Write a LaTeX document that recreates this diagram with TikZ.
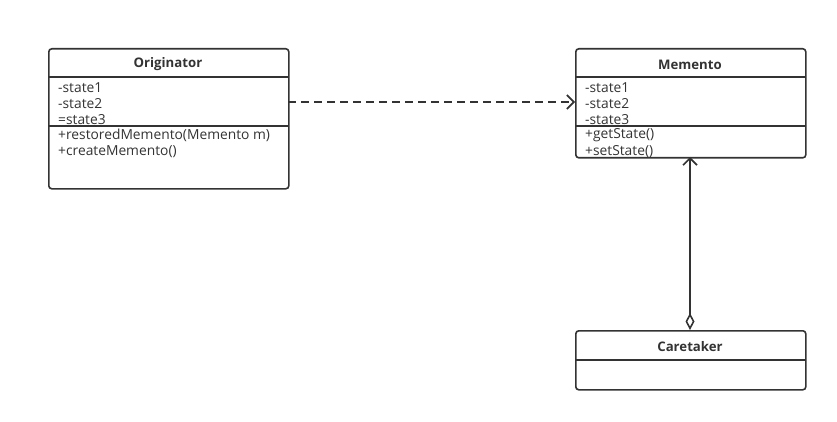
\documentclass[tikz,border=0pt]{standalone}
\usepackage{fontspec}
\setmainfont{Open Sans}
\usetikzlibrary{arrows.meta}
\definecolor{ink}{HTML}{333333}
\begin{document}
\begin{tikzpicture}[x=1pt,y=-1pt,
  classbox/.style={draw=ink,line width=1.6pt,rounded corners=3pt,inner sep=0pt,anchor=north west},
  divider/.style={draw=ink,line width=1.6pt},
  title/.style={font=\fontsize{13.2}{15}\selectfont\bfseries,text=ink},
  member/.style={font=\fontsize{13.8}{15}\selectfont,text=ink,anchor=west,inner sep=0pt},
  conn/.style={draw=ink,line width=1.6pt}]
\useasboundingbox (0,0) rectangle (837,422);
% Originator
\node[classbox,minimum width=240pt,minimum height=140pt] (orig) at (48,48) {};
\node[title] (origt) at (168,64.5) {Originator};
\draw[divider] (48,77) -- (288,77);
\draw[divider] (48,126) -- (288,126);
\node[member] (o1) at (58,87.5) {-state1};
\node[member] (o2) at (58,103.5) {-state2};
\node[member] (o3) at (58,119.5) {=state3};
\node[member] (o4) at (58,135.5) {+restoredMemento(Memento m)};
\node[member] (o5) at (58,151.5) {+createMemento()};
% Memento
\node[classbox,minimum width=230pt,minimum height=109pt] (mem) at (575,48) {};
\node[title] (memt) at (690,64.5) {Memento};
\draw[divider] (575,77) -- (805,77);
\draw[divider] (575,126) -- (805,126);
\node[member] (m1) at (585,87.5) {-state1};
\node[member] (m2) at (585,103.5) {-state2};
\node[member] (m3) at (585,119.5) {-state3};
\node[member] (m4) at (585,135.5) {+getState()};
\node[member] (m5) at (585,151.5) {+setState()};
% Caretaker
\node[classbox,minimum width=230pt,minimum height=59pt] (care) at (575,330) {};
\node[title] (caret) at (690,346.5) {Caretaker};
\draw[divider] (575,360) -- (805,360);
% connectors
\coordinate (a1) at (288,102);
\coordinate (a2) at (575,102);
\draw[conn,dash pattern=on 8pt off 5pt,-{Straight Barb[length=7pt,width=14pt,line width=1.6pt]}] (a1) -- (a2);
\coordinate (b1) at (690,330);
\coordinate (b2) at (690,157);
\draw[conn,{Diamond[open,length=17pt,width=9pt,line width=1.6pt]}-{Straight Barb[length=7pt,width=14pt,line width=1.6pt]}] (b1) -- (b2);
\end{tikzpicture}
\end{document}
